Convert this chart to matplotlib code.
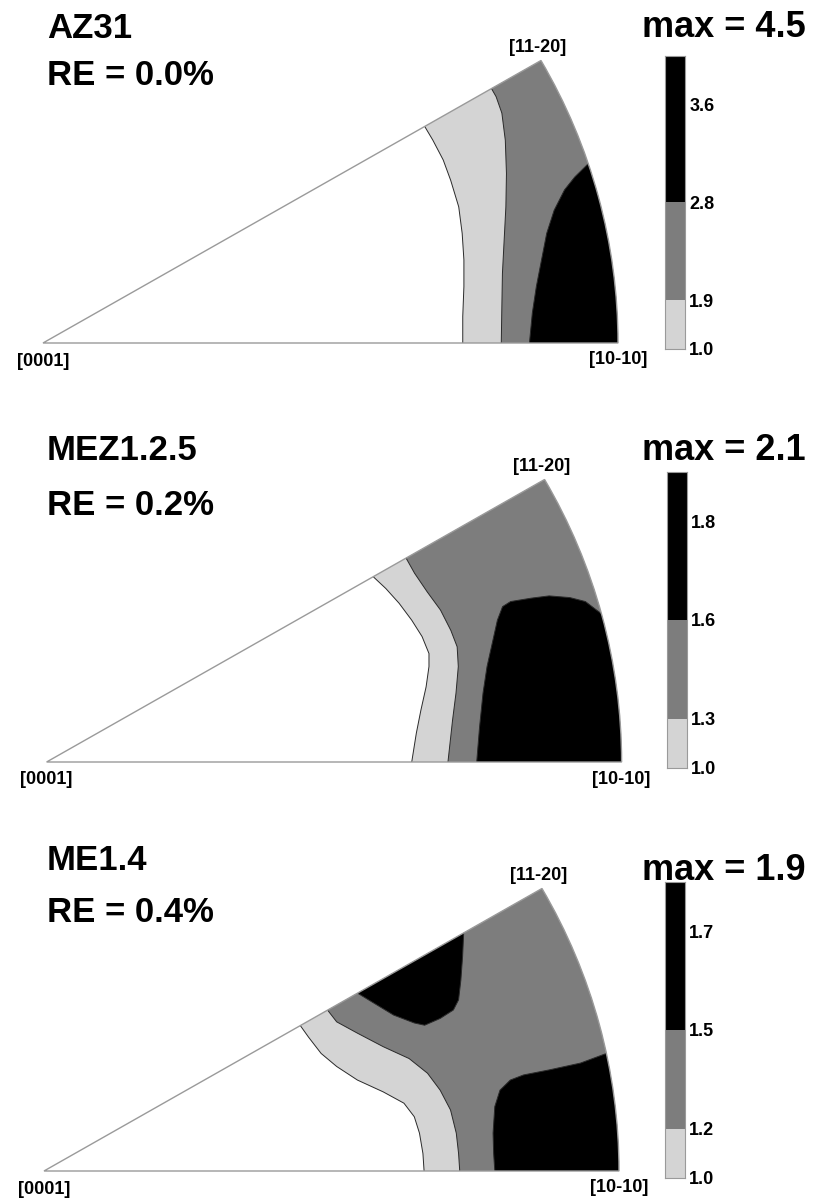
import numpy as np
import matplotlib
matplotlib.use("Agg")
import matplotlib.pyplot as plt
from matplotlib.patches import Wedge, Polygon

plt.rcParams['font.family'] = ['Liberation Sans', 'DejaVu Sans']
plt.rcParams['font.weight'] = 'bold'

# ---------------- data ----------------
names = ["AZ31", "MEZ1.2.5", "ME1.4"]
re_labels = ["RE = 0.0%", "RE = 0.2%", "RE = 0.4%"]
max_values = [4.5, 2.1, 1.9]
levels = [[1.0, 1.9, 2.8], [1.0, 1.3, 1.6], [1.0, 1.2, 1.5]]
tick_values = [[1.0, 1.9, 2.8, 3.6], [1.0, 1.3, 1.6, 1.8], [1.0, 1.2, 1.5, 1.7]]
corner_labels = ["[0001]", "[10-10]", "[11-20]"]

# contour boundaries (x, y in units of the IPF radius)
p1_light = [(0.664, 0.383), (0.678, 0.359), (0.696, 0.324), (0.709, 0.288), (0.723, 0.241), (0.729, 0.194),
            (0.732, 0.147), (0.732, 0.100), (0.730, 0.047), (0.730, 0.0)]
p1_gray = [(0.779, 0.452), (0.788, 0.436), (0.798, 0.407), (0.804, 0.359), (0.806, 0.300), (0.805, 0.241),
           (0.802, 0.182), (0.799, 0.123), (0.798, 0.064), (0.797, 0.0)]
p1_black = [(0.946, 0.315), (0.925, 0.294), (0.907, 0.271), (0.889, 0.235), (0.876, 0.194), (0.867, 0.147),
            (0.858, 0.100), (0.851, 0.053), (0.846, 0.0)]

p2_light = [(0.568, 0.328), (0.590, 0.307), (0.613, 0.281), (0.635, 0.251), (0.653, 0.222), (0.665, 0.192),
            (0.665, 0.169), (0.660, 0.133), (0.651, 0.092), (0.643, 0.051), (0.635, 0.0)]
p2_gray = [(0.624, 0.363), (0.640, 0.334), (0.662, 0.301), (0.685, 0.269), (0.703, 0.233), (0.714, 0.204),
           (0.716, 0.169), (0.712, 0.122), (0.706, 0.074), (0.698, 0.0)]
p2_black = [(0.964, 0.263), (0.937, 0.284), (0.910, 0.291), (0.874, 0.294), (0.843, 0.290), (0.807, 0.284),
            (0.793, 0.275), (0.784, 0.251), (0.775, 0.210), (0.766, 0.169), (0.759, 0.122), (0.753, 0.062),
            (0.748, 0.0)]

p3_light = [(0.446, 0.257), (0.460, 0.237), (0.482, 0.208), (0.509, 0.185), (0.545, 0.161), (0.590, 0.140),
            (0.626, 0.120), (0.644, 0.096), (0.653, 0.067), (0.659, 0.031), (0.661, 0.0)]
p3_gray = [(0.493, 0.285), (0.509, 0.264), (0.545, 0.244), (0.590, 0.220), (0.635, 0.199), (0.667, 0.173),
           (0.689, 0.143), (0.707, 0.108), (0.717, 0.067), (0.721, 0.031), (0.723, 0.0)]
p3_black_top = [(0.545, 0.315), (0.574, 0.297), (0.608, 0.276), (0.644, 0.262), (0.662, 0.258), (0.689, 0.270),
                (0.712, 0.285), (0.721, 0.303), (0.725, 0.338), (0.728, 0.380), (0.730, 0.424)]
p3_black_right = [(0.978, 0.208), (0.933, 0.191), (0.879, 0.179), (0.834, 0.170), (0.811, 0.161), (0.793, 0.143),
                  (0.784, 0.114), (0.781, 0.067), (0.782, 0.031), (0.784, 0.0)]

panel_regions = [
    [(p1_light, 0, "open"), (p1_gray, 1, "open"), (p1_black, 2, "open")],
    [(p2_light, 0, "open"), (p2_gray, 1, "open"), (p2_black, 2, "open")],
    [(p3_light, 0, "open"), (p3_gray, 1, "open"), (p3_black_top, 2, "closed"), (p3_black_right, 2, "open")],
]

# ---------------- style / layout ----------------
W, H = 814, 1198
COLORS = ["#d4d4d4", "#7d7d7d", "#000000"]
CBAR_STEPS = [0, 1, 3, 5, 6]
RX, RY = 575.0, 565.0
apex_px = [(43, 343), (46.6, 762), (44, 1171)]
cbar_px = [(665, 56, 349), (667, 472, 768), (665, 882, 1178)]
title_base = [38, 460, 870]
re_base = [85, 515, 922]
max_base = [37, 460, 880]

fig = plt.figure(figsize=(W / 100, H / 100), dpi=100)
fig.patch.set_facecolor("white")


def ftext(x, y, s, **kw):
    fig.text(x / W, 1 - y / H, s, **kw)


def region_polygon(pts, kind):
    pts = np.asarray(pts, dtype=float)
    ext0 = pts[0] + 2 * (pts[0] - pts[1])
    if kind == "closed":
        extn = pts[-1] + 2 * (pts[-1] - pts[-2])
        return np.vstack([ext0, pts, extn])
    far = ext0 * 4
    xe = pts[-1, 0]
    return np.vstack([ext0, pts, [xe, -0.2], [far[0], -0.2], far])


for i in range(3):
    axp, ayp = apex_px[i]
    below = 27
    ax = fig.add_axes([0, 1 - (ayp + below) / H, 1, (343 + below) / H])
    ax.set_xlim(-axp / RX, (W - axp) / RX)
    ax.set_ylim(-below / RY, 343 / RY)
    ax.axis("off")

    clip = Wedge((0, 0), 1.0, 0, 30, transform=ax.transData)
    for pts, ci, kind in panel_regions[i]:
        poly = Polygon(region_polygon(pts, kind), closed=True, facecolor=COLORS[ci],
                       edgecolor="#2a2a2a", linewidth=0.7, zorder=2, joinstyle="round")
        ax.add_patch(poly)
        poly.set_clip_path(clip)
    ax.add_patch(Wedge((0, 0), 1.0, 0, 30, fill=False, edgecolor="#9a9a9a", linewidth=1.0, zorder=3))

    ax.text(0.0, -18 / RY, corner_labels[0], ha="center", va="center", fontsize=13, fontweight="bold")
    ax.text(1.0, -17 / RY, corner_labels[1], ha="center", va="center", fontsize=13, fontweight="bold")
    ax.text(np.cos(np.radians(30)) - 3 / RX, 0.5 + 13 / RY, corner_labels[2], ha="center", va="center",
            fontsize=13, fontweight="bold")

    ftext(47, title_base[i], names[i], ha="left", va="baseline", fontsize=25, fontweight="bold")
    ftext(47, re_base[i], re_labels[i], ha="left", va="baseline", fontsize=25, fontweight="bold")
    ftext(806, max_base[i], "max = %.1f" % max_values[i], ha="right", va="baseline", fontsize=26,
          fontweight="bold")

    # colour bar
    cx, ctop, cbot = cbar_px[i]
    cax = fig.add_axes([cx / W, 1 - cbot / H, 20 / W, (cbot - ctop) / H])
    vals = list(tick_values[i]) + [max_values[i]]

    def fwd(v, vals=vals):
        return np.interp(v, vals, CBAR_STEPS)

    def inv(p, vals=vals):
        return np.interp(p, CBAR_STEPS, vals)

    cax.set_yscale("function", functions=(fwd, inv))
    bounds = list(levels[i]) + [max_values[i]]
    for k in range(3):
        cax.bar(0, bounds[k + 1] - bounds[k], bottom=bounds[k], width=1.0, color=COLORS[k], edgecolor="none")
    cax.set_xlim(-0.5, 0.5)
    cax.set_ylim(levels[i][0], max_values[i])
    cax.set_xticks([])
    cax.set_yticks(tick_values[i])
    cax.set_yticklabels(["%.1f" % t for t in tick_values[i]], fontsize=13, fontweight="bold")
    cax.yaxis.tick_right()
    cax.tick_params(axis="y", length=0, pad=3)
    cax.minorticks_off()
    for sp in cax.spines.values():
        sp.set_color("#9a9a9a")
        sp.set_linewidth(0.8)

fig.savefig("out.png", dpi=100, facecolor="white")
